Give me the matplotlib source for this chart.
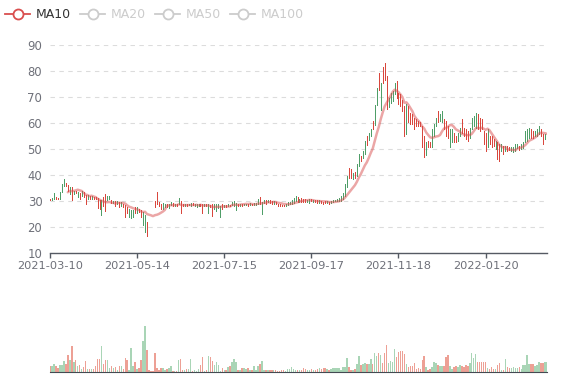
import numpy as np
import pandas as pd
import matplotlib
matplotlib.use("Agg")
import matplotlib.pyplot as plt
from matplotlib.lines import Line2D

# ---------------- data ----------------
tick_labels = ['2021-03-10', '2021-05-14', '2021-07-15', '2021-09-17', '2021-11-18', '2022-01-20']
label_step = 44
legend_names = ['MA10', 'MA20', 'MA50', 'MA100']

open_ = [
    30.6, 30.2, 30.7, 31.7, 31.0, 30.8, 33.3, 35.8, 37.1, 36.3,
    32.7, 35.4, 32.7, 33.7, 31.4, 33.0, 32.1, 33.3, 32.3, 30.8,
    32.1, 30.9, 31.7, 31.4, 31.1, 30.5, 24.8, 31.7, 32.7, 30.2,
    30.8, 30.2, 29.2, 29.9, 28.7, 29.6, 28.1, 28.9, 28.3, 27.7,
    23.9, 23.3, 23.9, 27.7, 25.4, 27.0, 26.4, 20.8, 18.2, 22.0,
    None, None, None, 29.9, 33.3, 29.6, 28.9, 27.0, 27.7, 28.7,
    27.4, 28.3, 29.2, 27.9, 28.9, 28.9, 29.9, 28.9, 28.0, 28.7,
    28.3, 27.9, 29.2, 28.1, 27.7, 27.9, 28.7, 28.9, 28.0, 28.7,
    25.2, 28.5, 28.9, 27.0, 26.3, 27.2, 23.8, 28.9, 27.6, 28.5,
    27.9, 28.6, 28.5, 28.2, 26.7, 28.9, 28.2, 28.8, 28.4, 28.4,
    28.9, 28.5, 29.0, 28.5, 28.6, 28.9, 31.4, 25.0, 29.2, 30.5,
    29.5, 30.3, 30.1, 29.0, 29.7, 28.9, 28.9, 28.5, 28.5, 28.0,
    28.5, 28.8, 28.9, 29.2, 30.1, 31.4, 29.7, 31.0, 30.8, 30.8,
    29.5, 29.2, 30.6, 29.7, 30.4, 30.2, 29.4, 30.0, 29.8, 29.9,
    29.3, 29.8, 29.2, 29.5, 29.9, 30.1, 30.1, 30.1, 30.7, 32.0,
    35.2, 42.8, 42.2, 38.3, 41.3, 39.6, 43.4, 47.3, 46.6, 47.9,
    54.9, 53.6, 54.9, 60.6, 59.4, 67.0, 79.1, 65.1, 81.7, 83.0,
    77.9, 66.0, 67.8, 68.4, 71.0, 76.1, 71.6, 71.0, 69.0, 66.5,
    55.7, 66.5, 64.0, 63.3, 62.1, 61.4, 60.8, 60.2, 58.9, 55.1,
    47.5, 53.2, 52.5, 50.6, 55.1, 58.9, 64.6, 60.8, 60.2, 61.4,
    60.8, 58.9, 50.6, 52.5, 56.3, 55.1, 53.2, 55.1, 61.4, 58.2,
    57.6, 56.9, 54.4, 57.6, 58.9, 58.2, 63.3, 62.1, 61.4, 57.0,
    56.3, 50.6, 55.1, 55.1, 53.8, 50.0, 52.5, 51.9, 49.3, 51.3,
    49.3, 51.3, 50.6, 49.3, 48.7, 49.3, 50.2, 51.3, 50.0, 50.2,
    52.5, 53.2, 54.4, 57.6, 56.9, 55.1, 55.1, 55.7, 57.6, 55.7,
    53.8, 53.2,
]

close = [
    30.2, 31.1, 33.0, 30.9, 30.6, 33.3, 36.4, 38.4, 35.8, 34.0,
    35.2, 30.2, 34.0, 32.9, 33.3, 30.8, 34.0, 31.4, 28.7, 32.3,
    30.8, 32.1, 30.9, 30.8, 27.2, 26.8, 30.5, 27.9, 26.2, 32.1,
    32.1, 29.2, 29.9, 27.9, 29.9, 27.7, 29.6, 27.7, 23.9, 25.2,
    27.0, 26.7, 26.7, 25.2, 27.7, 25.8, 23.9, 25.8, 24.5, 16.4,
    None, None, None, 27.7, 28.9, 27.9, 27.0, 29.2, 28.9, 27.7,
    28.9, 29.6, 27.9, 28.9, 27.9, 31.2, 25.4, 27.9, 28.9, 28.0,
    28.9, 29.2, 28.3, 28.7, 28.9, 28.9, 27.9, 25.2, 28.9, 27.9,
    28.9, 27.7, 24.2, 28.9, 28.9, 28.9, 28.2, 26.9, 28.5, 27.7,
    28.8, 28.0, 29.5, 30.1, 29.2, 28.2, 28.9, 28.2, 28.9, 29.0,
    28.2, 29.2, 28.4, 29.2, 29.2, 30.8, 28.9, 29.5, 30.5, 28.9,
    30.5, 29.2, 28.9, 30.0, 28.9, 28.0, 28.0, 28.0, 28.0, 28.9,
    29.5, 29.7, 30.5, 31.0, 32.0, 29.7, 30.8, 29.5, 29.7, 29.5,
    30.5, 30.8, 29.9, 30.5, 29.6, 29.3, 30.2, 29.2, 29.0, 29.1,
    30.0, 29.0, 30.0, 30.3, 30.5, 30.7, 31.3, 32.0, 33.2, 36.4,
    39.6, 39.0, 38.7, 40.9, 39.0, 44.1, 47.9, 45.4, 49.2, 53.0,
    51.7, 56.2, 57.8, 57.5, 67.0, 73.4, 72.7, 75.3, 75.4, 76.7,
    65.3, 69.7, 71.6, 72.3, 75.4, 69.8, 67.2, 66.6, 64.6, 55.1,
    67.2, 60.3, 59.6, 59.6, 57.6, 58.9, 58.9, 58.9, 50.6, 46.8,
    52.5, 50.6, 50.6, 57.6, 59.6, 62.1, 60.2, 63.3, 64.6, 57.6,
    55.1, 54.4, 57.6, 57.6, 52.5, 52.5, 56.3, 58.2, 56.3, 55.1,
    53.8, 53.2, 58.2, 62.1, 62.7, 64.0, 57.6, 57.0, 57.6, 51.9,
    49.3, 57.6, 51.9, 50.6, 51.3, 53.2, 46.2, 45.5, 51.9, 48.1,
    51.3, 49.3, 49.7, 50.6, 50.6, 51.9, 51.9, 49.7, 51.9, 52.5,
    56.9, 57.6, 58.2, 54.4, 54.4, 56.9, 57.6, 58.9, 55.1, 51.9,
    55.7, 55.1,
]

volume = [
    6.3, 6.3, 8.3, 6.3, 4, 7, 7, 10.7, 8.3, 17.3,
    12.3, 25.7, 9.7, 11.7, 6.3, 7, 3.3, 5, 11, 3.3,
    3.3, 3.3, 3.3, 6.3, 13.3, 13.3, 25.7, 8, 11.7, 11.7,
    4.3, 6.3, 4.3, 5, 1.7, 6.3, 6.3, 3, 14, 12.3,
    1.7, 23.7, 6.3, 9.7, 3, 4, 12.3, 31.3, 46.3, 22.3,
    1.7, 0.7, 0.7, 19, 4, 1.7, 4, 4, 2.3, 3,
    4, 6.3, 0.7, 1.3, 0.7, 11.7, 13, 1.7, 1.7, 3,
    3, 13, 0.7, 1.7, 0.7, 3, 7.3, 14.7, 1.3, 2.3,
    16.3, 14.7, 10.7, 7.3, 10, 7.3, 0.7, 4, 2.3, 2.3,
    5, 6.3, 9.7, 13.3, 9.7, 1.7, 1.7, 4, 4, 3.3,
    4, 1.7, 1.7, 5.7, 2.3, 5.7, 8.3, 10.7, 1.7, 1.7,
    1.7, 2.3, 1.7, 1.7, 2.3, 0.7, 1.3, 2.3, 2.3, 0.7,
    3, 3, 5, 3, 1.7, 2, 1.7, 2.5, 4, 3,
    2, 2.5, 3, 2, 2.3, 3, 4, 3, 4, 4,
    3, 2.3, 3, 4, 4, 4, 4, 2.3, 5, 5,
    14, 5, 2, 2.3, 3, 8.3, 15.7, 6.7, 8.3, 9,
    8.3, 8.3, 13, 8.3, 19, 15.7, 19, 17.3, 9, 19,
    26.7, 9, 11.3, 10, 23, 14.7, 19.7, 21.3, 21.3, 18.3,
    8.3, 4.7, 6.3, 6.3, 9, 3.3, 4, 3, 11.7, 16.3,
    5, 2.3, 3.3, 4.7, 9.7, 9, 7.3, 6.3, 5.7, 6.3,
    15, 17.3, 5.7, 3.3, 4.7, 5.7, 5, 7, 6.3, 5,
    7, 6.3, 9, 19, 14, 18.3, 10.3, 10.3, 9.7, 10.3,
    10.3, 4, 3, 5, 3.3, 3.3, 7, 9, 1.7, 1.7,
    13, 5, 4, 4, 5, 4, 4, 5, 3.3, 7.3,
    7.3, 17.3, 8.3, 8, 8.3, 5.7, 6.7, 10.3, 9, 9,
    10, 10.3,
]

# ---------------- drawing ----------------
o = np.array(open_, dtype=float)
c = np.array(close, dtype=float)
v = np.array(volume, dtype=float)
n = len(c)
x = np.arange(n)

UP, DOWN = '#4f9e68', '#d9473d'
UP_L, DOWN_L = '#a9d5b6', '#eda095'
rising = c > o
cand_col = np.where(rising, UP, DOWN)
vol_col = np.where(rising, UP_L, DOWN_L)

W, H = 577, 380
fig = plt.figure(figsize=(W / 100, H / 100), dpi=100)


def rect(l, t, r, b):
    return [l / W, 1 - b / H, (r - l) / W, (b - t) / H]


ax = fig.add_axes(rect(50, 45, 547, 253))
axv = fig.add_axes(rect(50, 300, 547, 372))

valid = ~np.isnan(c)
lo = np.fmin(o, c)
hi = np.fmax(o, c)
ax.vlines(x[valid], lo[valid], np.maximum(hi[valid], lo[valid] + 0.35),
          colors=cand_col[valid], linewidth=0.72, antialiased=False, zorder=3)

ma10 = pd.Series(c).rolling(10, min_periods=7).mean().to_numpy()
ma10[:9] = np.nan
ax.plot(x, ma10, color='#d94e4e', alpha=0.5, lw=1.8, zorder=4,
        solid_capstyle='round', solid_joinstyle='round')

ax.set_xlim(0, n - 1)
ax.set_ylim(10, 90)
ax.set_yticks(range(10, 91, 10))
ax.grid(axis='y', color='#dcdcdc', linestyle=(0, (4, 4)), linewidth=0.8)
ax.set_axisbelow(True)
for s in ['top', 'right', 'left']:
    ax.spines[s].set_visible(False)
ax.spines['bottom'].set_color('#555a63')
ax.spines['bottom'].set_linewidth(1.0)
ax.tick_params(axis='y', length=0, pad=5.5, labelsize=8.4, labelcolor='#6e7079')
ax.set_xticks(np.arange(len(tick_labels)) * label_step)
ax.set_xticklabels(tick_labels)
ax.tick_params(axis='x', length=3.6, width=1.0, color='#555a63', labelsize=8.2,
               labelcolor='#6e7079', pad=2.5)

axv.bar(x, v, width=0.75, color=vol_col, linewidth=0)
axv.set_xlim(0, n - 1)
axv.set_ylim(0, 72)
for s in ['top', 'right', 'left']:
    axv.spines[s].set_visible(False)
axv.spines['bottom'].set_color('#444a52')
axv.set_xticks([])
axv.set_yticks([])

# legend
leg_x = [5, 80, 155, 230]
for i, (lx, name) in enumerate(zip(leg_x, legend_names)):
    active = i == 0
    col = '#d94e4e' if active else '#cccccc'
    tcol = '#333333' if active else '#cccccc'
    yy = 1 - 14 / H
    fig.add_artist(Line2D([lx / W, (lx + 25) / W], [yy, yy], color=col, lw=1.3,
                          transform=fig.transFigure))
    fig.add_artist(Line2D([(lx + 12.5) / W], [yy], marker='o', ms=7.2, mfc='white',
                          mec=col, mew=1.3, transform=fig.transFigure))
    fig.text((lx + 31) / W, yy, name, color=tcol, fontsize=9, va='center', ha='left')

fig.savefig('out.png', dpi=100)
